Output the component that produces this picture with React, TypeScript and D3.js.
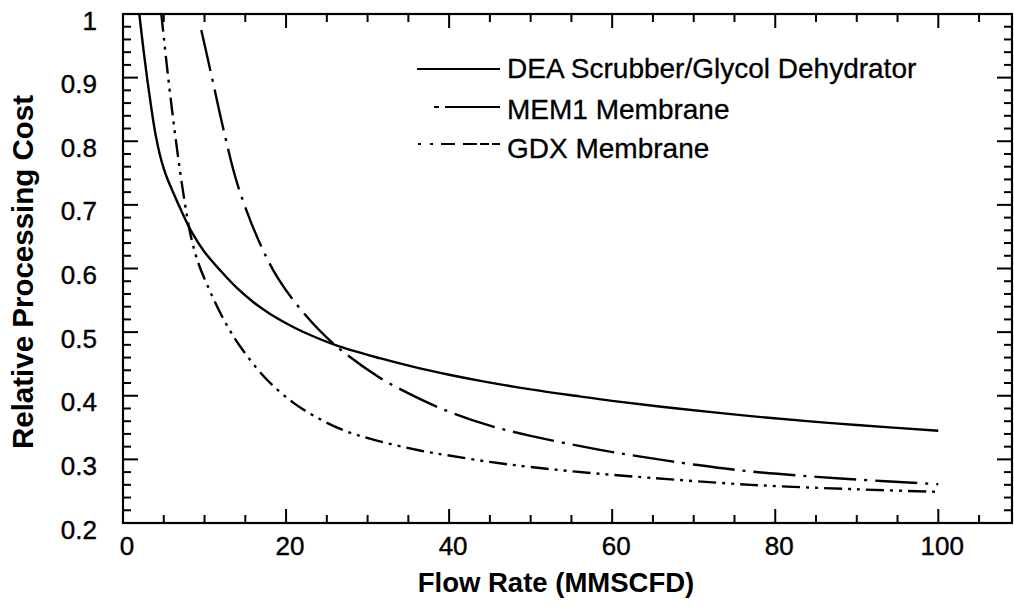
import React from "react";
import * as d3 from "d3";

// ---- data ----
const xTickLabels = [0, 20, 40, 60, 80, 100];
const yTickLabels = [0.2, 0.3, 0.4, 0.5, 0.6, 0.7, 0.8, 0.9, 1];

const seriesNames = ["DEA Scrubber/Glycol Dehydrator", "MEM1 Membrane", "GDX Membrane"];

const deaFlow = [2, 2.5, 3, 3.5, 4, 4.5, 5, 5.5, 6, 7, 8.4, 10, 12, 14, 16, 18, 20, 22, 26, 31.5, 36.4, 40, 44, 50, 56, 60, 68, 77, 85, 90, 100];
const deaCost = [1.0, 0.945, 0.895, 0.85, 0.81, 0.78, 0.757, 0.739, 0.724, 0.695, 0.658, 0.626, 0.596, 0.569, 0.547, 0.529, 0.514, 0.501, 0.48, 0.459, 0.443, 0.433, 0.423, 0.41, 0.399, 0.392, 0.38, 0.368, 0.359, 0.354, 0.345];

const mem1Flow = [9.6, 11, 12.3, 14, 16.6, 19, 22.3, 25.8, 31.3, 36.4, 40.2, 45, 50, 58.5, 64.7, 70, 77, 88, 100];
const mem1Cost = [0.975, 0.895, 0.82, 0.734, 0.645, 0.585, 0.528, 0.482, 0.43, 0.395, 0.374, 0.353, 0.337, 0.315, 0.302, 0.292, 0.281, 0.27, 0.261];

const gdxFlow = [4.7, 5.5, 6.4, 7.4, 8.3, 9.2, 10.3, 12.3, 14.4, 17.6, 21, 24.2, 27, 30.7, 36.4, 40, 45, 50, 57, 64.7, 77, 90, 100];
const gdxCost = [1.0, 0.905, 0.81, 0.718, 0.652, 0.61, 0.575, 0.521, 0.477, 0.426, 0.388, 0.363, 0.346, 0.331, 0.314, 0.306, 0.296, 0.288, 0.279, 0.271, 0.26, 0.253, 0.249];

const xMinorTicks = d3.range(0, 110, 5);
const yMinorTicks = d3.range(0.2, 1.0001, 0.02);

export default function App() {
  const W = 1014;
  const H = 613;
  const left = 123, right = 1012, top = 14, bottom = 523;

  const x = d3.scaleLinear().domain([0, 100]).range([left, 938.3]);
  const y = d3.scaleLinear().domain([0.2, 1]).range([bottom, top]);
  const xMax = x.invert(right);

  const line = d3
    .line<[number, number]>()
    .x((d) => x(d[0]))
    .y((d) => y(d[1]))
    .curve(d3.curveCatmullRom.alpha(0.5));

  const dea = deaFlow.map((v, i) => [v, deaCost[i]] as [number, number]);
  const mem1 = mem1Flow.map((v, i) => [v, mem1Cost[i]] as [number, number]);
  const gdx = gdxFlow.map((v, i) => [v, gdxCost[i]] as [number, number]);

  const styles = [
    { dash: "none" },
    { dash: "42,8,3,8" },
    { dash: "18,6,3,6,3,6" },
  ];
  const data = [dea, mem1, gdx];

  const font = "'Liberation Sans', Arial, Helvetica, sans-serif";
  const legendX1 = [417, 434, 418];
  const legendLineY = [69, 107, 144];
  const legendTextY = [78, 119, 158];

  const isMajorX = (v: number) => Math.abs(v % 20) < 1e-6;
  const isMajorY = (v: number) => Math.abs(Math.round(v * 10) - v * 10) < 1e-6;

  return (
    <svg
      width={W}
      height={H}
      style={{ position: "absolute", left: 0, top: 0, background: "#fff" }}
      fontFamily={font}
    >
      <rect x={0} y={0} width={W} height={H} fill="#fff" />
      {/* curves */}
      <g fill="none" stroke="#000" strokeWidth={2.4} strokeLinejoin="round">
        {data.map((d, i) => (
          <path key={i} d={line(d) || ""} strokeDasharray={styles[i].dash} />
        ))}
      </g>

      {/* frame */}
      <rect x={left} y={top} width={right - left} height={bottom - top} fill="none" stroke="#000" strokeWidth={2.2} />

      {/* ticks */}
      <g stroke="#000" strokeWidth={2}>
        {xMinorTicks.filter((v) => v > 0 && v < xMax).map((v) => {
          const len = isMajorX(v) ? 14 : 8;
          return (
            <g key={"xt" + v}>
              <line x1={x(v)} x2={x(v)} y1={bottom} y2={bottom - len} />
              <line x1={x(v)} x2={x(v)} y1={top} y2={top + len} />
            </g>
          );
        })}
        {yMinorTicks.filter((v) => v > 0.2001 && v < 0.9999).map((v) => {
          const len = isMajorY(v) ? 15 : 8;
          return (
            <g key={"yt" + v.toFixed(2)}>
              <line x1={left} x2={left + len} y1={y(v)} y2={y(v)} />
              <line x1={right} x2={right - len} y1={y(v)} y2={y(v)} />
            </g>
          );
        })}
      </g>

      {/* tick labels */}
      <g fontSize={26} fill="#000" stroke="#000" strokeWidth={0.4}>
        {xTickLabels.map((v) => (
          <text key={"xl" + v} x={x(v) + 4} y={555} textAnchor="middle">
            {v}
          </text>
        ))}
        {yTickLabels.map((v) => (
          <text key={"yl" + v} x={97} y={y(v) + 15.5} textAnchor="end">
            {String(v)}
          </text>
        ))}
      </g>

      {/* axis titles */}
      <text x={556} y={592} textAnchor="middle" fontSize={27.5} fontWeight="bold">
        Flow Rate (MMSCFD)
      </text>
      <text
        transform={`translate(33,272) rotate(-90)`}
        textAnchor="middle"
        fontSize={29.5}
        fontWeight="bold"
      >
        Relative Processing Cost
      </text>

      {/* legend */}
      <g>
        {seriesNames.map((name, i) => (
          <g key={name}>
            <line
              x1={legendX1[i]}
              x2={500}
              y1={legendLineY[i]}
              y2={legendLineY[i]}
              stroke="#000"
              strokeWidth={2}
              strokeDasharray={i === 1 ? "5,6,60" : i === 2 ? "3,9,3,8,14,8,14" : "none"}
            />
            <text x={507} y={legendTextY[i]} fontSize={28} stroke="#000" strokeWidth={0.3}>
              {name}
            </text>
          </g>
        ))}
      </g>
    </svg>
  );
}
